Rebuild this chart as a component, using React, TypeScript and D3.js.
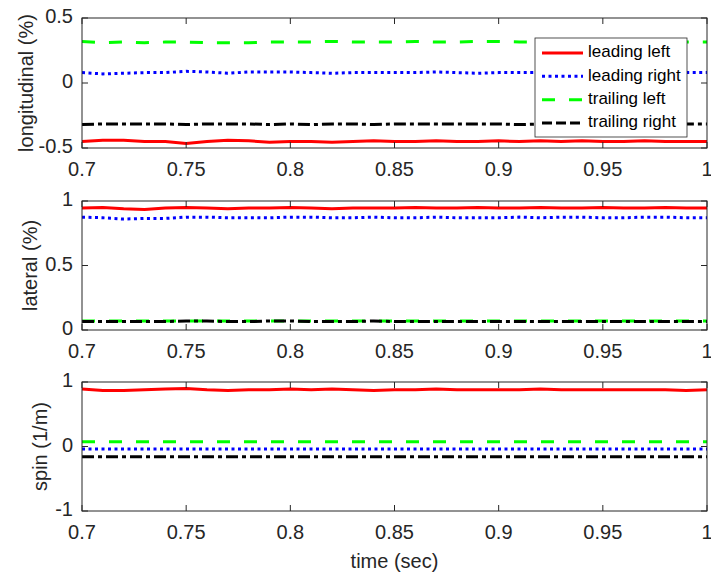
import * as React from "react";
import * as d3 from "d3";

// time samples (sec)
const time = [
  0.7, 0.71, 0.72, 0.73, 0.74, 0.75, 0.76, 0.77, 0.78, 0.79, 0.8, 0.81, 0.82, 0.83, 0.84, 0.85,
  0.86, 0.87, 0.88, 0.89, 0.9, 0.91, 0.92, 0.93, 0.94, 0.95, 0.96, 0.97, 0.98, 0.99, 1.0,
];

// longitudinal (%)
const longLeadLeft = [
  -0.45, -0.44, -0.44, -0.45, -0.45, -0.465, -0.45, -0.44, -0.445, -0.455, -0.45, -0.45, -0.455,
  -0.45, -0.445, -0.45, -0.45, -0.445, -0.45, -0.45, -0.445, -0.45, -0.445, -0.45, -0.445, -0.45,
  -0.45, -0.445, -0.45, -0.45, -0.45,
];
const longLeadRight = [
  0.08, 0.07, 0.075, 0.08, 0.08, 0.09, 0.085, 0.075, 0.085, 0.085, 0.085, 0.08, 0.075, 0.08,
  0.08, 0.08, 0.08, 0.085, 0.08, 0.075, 0.08, 0.08, 0.08, 0.08, 0.085, 0.08, 0.08, 0.08, 0.08,
  0.08, 0.08,
];
const longTrailLeft = [
  0.32, 0.31, 0.315, 0.31, 0.315, 0.315, 0.31, 0.31, 0.31, 0.315, 0.315, 0.315, 0.32, 0.315,
  0.315, 0.315, 0.32, 0.315, 0.315, 0.32, 0.32, 0.315, 0.315, 0.315, 0.32, 0.315, 0.315, 0.315,
  0.32, 0.315, 0.315,
];
const longTrailRight = [
  -0.32, -0.315, -0.315, -0.315, -0.315, -0.32, -0.315, -0.315, -0.315, -0.32, -0.315, -0.32,
  -0.315, -0.315, -0.32, -0.315, -0.315, -0.315, -0.315, -0.315, -0.315, -0.32, -0.315, -0.315,
  -0.315, -0.315, -0.315, -0.315, -0.315, -0.315, -0.315,
];

// lateral (%)
const latLeadLeft = [
  0.945, 0.95, 0.94, 0.935, 0.945, 0.95, 0.945, 0.94, 0.945, 0.945, 0.95, 0.945, 0.94, 0.945,
  0.945, 0.945, 0.95, 0.945, 0.945, 0.95, 0.945, 0.945, 0.95, 0.945, 0.945, 0.95, 0.945, 0.945,
  0.95, 0.945, 0.945,
];
const latLeadRight = [
  0.875, 0.87, 0.86, 0.865, 0.865, 0.875, 0.875, 0.87, 0.87, 0.87, 0.875, 0.875, 0.87, 0.87,
  0.875, 0.87, 0.87, 0.875, 0.87, 0.87, 0.87, 0.875, 0.87, 0.875, 0.875, 0.87, 0.87, 0.875,
  0.875, 0.87, 0.87,
];
const latTrailLeft = [
  0.07, 0.07, 0.07, 0.07, 0.07, 0.07, 0.07, 0.07, 0.07, 0.07, 0.07, 0.07, 0.07, 0.07, 0.07, 0.07,
  0.07, 0.07, 0.07, 0.07, 0.07, 0.07, 0.07, 0.07, 0.07, 0.07, 0.07, 0.07, 0.07, 0.07, 0.07,
];
const latTrailRight = [
  0.065, 0.065, 0.065, 0.065, 0.065, 0.07, 0.07, 0.065, 0.065, 0.07, 0.07, 0.065, 0.065, 0.065,
  0.07, 0.065, 0.065, 0.065, 0.065, 0.065, 0.065, 0.065, 0.065, 0.065, 0.065, 0.065, 0.065,
  0.065, 0.065, 0.065, 0.065,
];

// spin (1/m)
const spinLeadLeft = [
  0.89, 0.87, 0.87, 0.88, 0.89, 0.9, 0.88, 0.87, 0.88, 0.88, 0.89, 0.88, 0.89, 0.88, 0.87, 0.88,
  0.88, 0.89, 0.88, 0.88, 0.88, 0.88, 0.89, 0.88, 0.88, 0.88, 0.88, 0.88, 0.88, 0.87, 0.88,
];
const spinLeadRight = [
  -0.04, -0.04, -0.04, -0.04, -0.04, -0.04, -0.04, -0.04, -0.04, -0.04, -0.04, -0.04, -0.04,
  -0.04, -0.04, -0.04, -0.04, -0.04, -0.04, -0.04, -0.04, -0.04, -0.04, -0.04, -0.04, -0.04,
  -0.04, -0.04, -0.04, -0.04, -0.04,
];
const spinTrailLeft = [
  0.075, 0.075, 0.075, 0.075, 0.075, 0.075, 0.075, 0.075, 0.075, 0.075, 0.075, 0.075, 0.075,
  0.075, 0.075, 0.075, 0.075, 0.075, 0.075, 0.075, 0.075, 0.075, 0.075, 0.075, 0.075, 0.075,
  0.075, 0.075, 0.075, 0.075, 0.075,
];
const spinTrailRight = [
  -0.16, -0.16, -0.16, -0.16, -0.16, -0.16, -0.16, -0.16, -0.16, -0.16, -0.16, -0.16, -0.16,
  -0.16, -0.16, -0.16, -0.16, -0.16, -0.16, -0.16, -0.16, -0.16, -0.16, -0.16, -0.16, -0.16,
  -0.16, -0.16, -0.16, -0.16, -0.16,
];

const seriesNames = ["leading left", "leading right", "trailing left", "trailing right"];
const xTicks = [0.7, 0.75, 0.8, 0.85, 0.9, 0.95, 1];

const seriesStyle = [
  { color: "#ff0000", dash: "none" },
  { color: "#0000ff", dash: "3,3.5" },
  { color: "#00ff00", dash: "13,14" },
  { color: "#000000", dash: "12,4,4,4" },
];

const panels = [
  { label: "longitudinal (%)", domain: [-0.5, 0.5], ticks: [-0.5, 0, 0.5], top: 18, bottom: 148, labelX: 33,
    series: [longLeadLeft, longLeadRight, longTrailLeft, longTrailRight] },
  { label: "lateral (%)", domain: [0, 1], ticks: [0, 0.5, 1], top: 201, bottom: 330, labelX: 37,
    series: [latLeadLeft, latLeadRight, latTrailLeft, latTrailRight] },
  { label: "spin (1/m)", domain: [-1, 1], ticks: [-1, 0, 1], top: 382, bottom: 511, labelX: 47,
    series: [spinLeadLeft, spinLeadRight, spinTrailLeft, spinTrailRight] },
];

const axisColor = "#262626";
const font = "'Liberation Sans', Arial, Helvetica, sans-serif";
const left = 82;
const right = 707;
const tickLen = 6;

const Panel = ({ p, i }) => {
  const x = d3.scaleLinear().domain([0.7, 1]).range([left, right]);
  const y = d3.scaleLinear().domain(p.domain).range([p.bottom, p.top]);
  const line = d3
    .line<number>()
    .x((_, k) => x(time[k]))
    .y((d) => y(d));
  const fmt = (v: number) => String(v);

  return (
    <g>
      <defs>
        <clipPath id={`clip${i}`}>
          <rect x={left} y={p.top} width={right - left} height={p.bottom - p.top} />
        </clipPath>
      </defs>
      <rect x={left} y={p.top} width={right - left} height={p.bottom - p.top} fill="#fff" />
      <g clipPath={`url(#clip${i})`}>
        {p.series.map((s, k) => (
          <path
            key={k}
            d={line(s) || ""}
            fill="none"
            stroke={seriesStyle[k].color}
            strokeWidth={3}
            strokeDasharray={seriesStyle[k].dash}
          />
        ))}
      </g>
      {/* box */}
      <rect x={left} y={p.top} width={right - left} height={p.bottom - p.top} fill="none" stroke={axisColor} strokeWidth={1} />
      {/* x ticks */}
      {xTicks.map((t) => (
        <g key={t}>
          <line x1={x(t)} x2={x(t)} y1={p.bottom} y2={p.bottom - tickLen} stroke={axisColor} />
          <line x1={x(t)} x2={x(t)} y1={p.top} y2={p.top + tickLen} stroke={axisColor} />
          <text x={x(t)} y={p.bottom + 23} textAnchor="middle" dominantBaseline="middle" fontSize={20} fill={axisColor} fontFamily={font}>
            {fmt(t)}
          </text>
        </g>
      ))}
      {/* y ticks */}
      {p.ticks.map((t) => (
        <g key={t}>
          <line x1={left} x2={left + tickLen} y1={y(t)} y2={y(t)} stroke={axisColor} />
          <line x1={right} x2={right - tickLen} y1={y(t)} y2={y(t)} stroke={axisColor} />
          <text x={73} y={y(t)} textAnchor="end" dominantBaseline="middle" fontSize={20} fill={axisColor} fontFamily={font}>
            {fmt(t)}
          </text>
        </g>
      ))}
      <text
        transform={`translate(${p.labelX},${(p.top + p.bottom) / 2}) rotate(-90)`}
        textAnchor="middle"
        fontSize={20}
        fill={axisColor}
        fontFamily={font}
      >
        {p.label}
      </text>
    </g>
  );
};

const Legend = () => {
  const rowY = d3.scalePoint().domain(seriesNames).range([53, 123]);
  return (
    <g>
      <rect x={535} y={38} width={152} height={99} fill="#fff" stroke={axisColor} strokeWidth={0.8} />
      {seriesNames.map((name, k) => (
        <g key={name}>
          <line
            x1={542}
            x2={583}
            y1={rowY(name)}
            y2={rowY(name)}
            stroke={seriesStyle[k].color}
            strokeWidth={3}
            strokeDasharray={k === 2 ? "13,14" : k === 3 ? "10,4" : seriesStyle[k].dash}
          />
          <text x={588} y={rowY(name)} dominantBaseline="middle" fontSize={17} fill="#000" fontFamily={font}>
            {name}
          </text>
        </g>
      ))}
    </g>
  );
};

export default function App() {
  return (
    <svg width={711} height={573} style={{ position: "absolute", left: 0, top: 0, background: "#fff" }}>
      {panels.map((p, i) => (
        <Panel key={i} p={p} i={i} />
      ))}
      <Legend />
      <text x={(left + right) / 2} y={568} textAnchor="middle" fontSize={20} fill={axisColor} fontFamily={font}>
        time (sec)
      </text>
    </svg>
  );
}
